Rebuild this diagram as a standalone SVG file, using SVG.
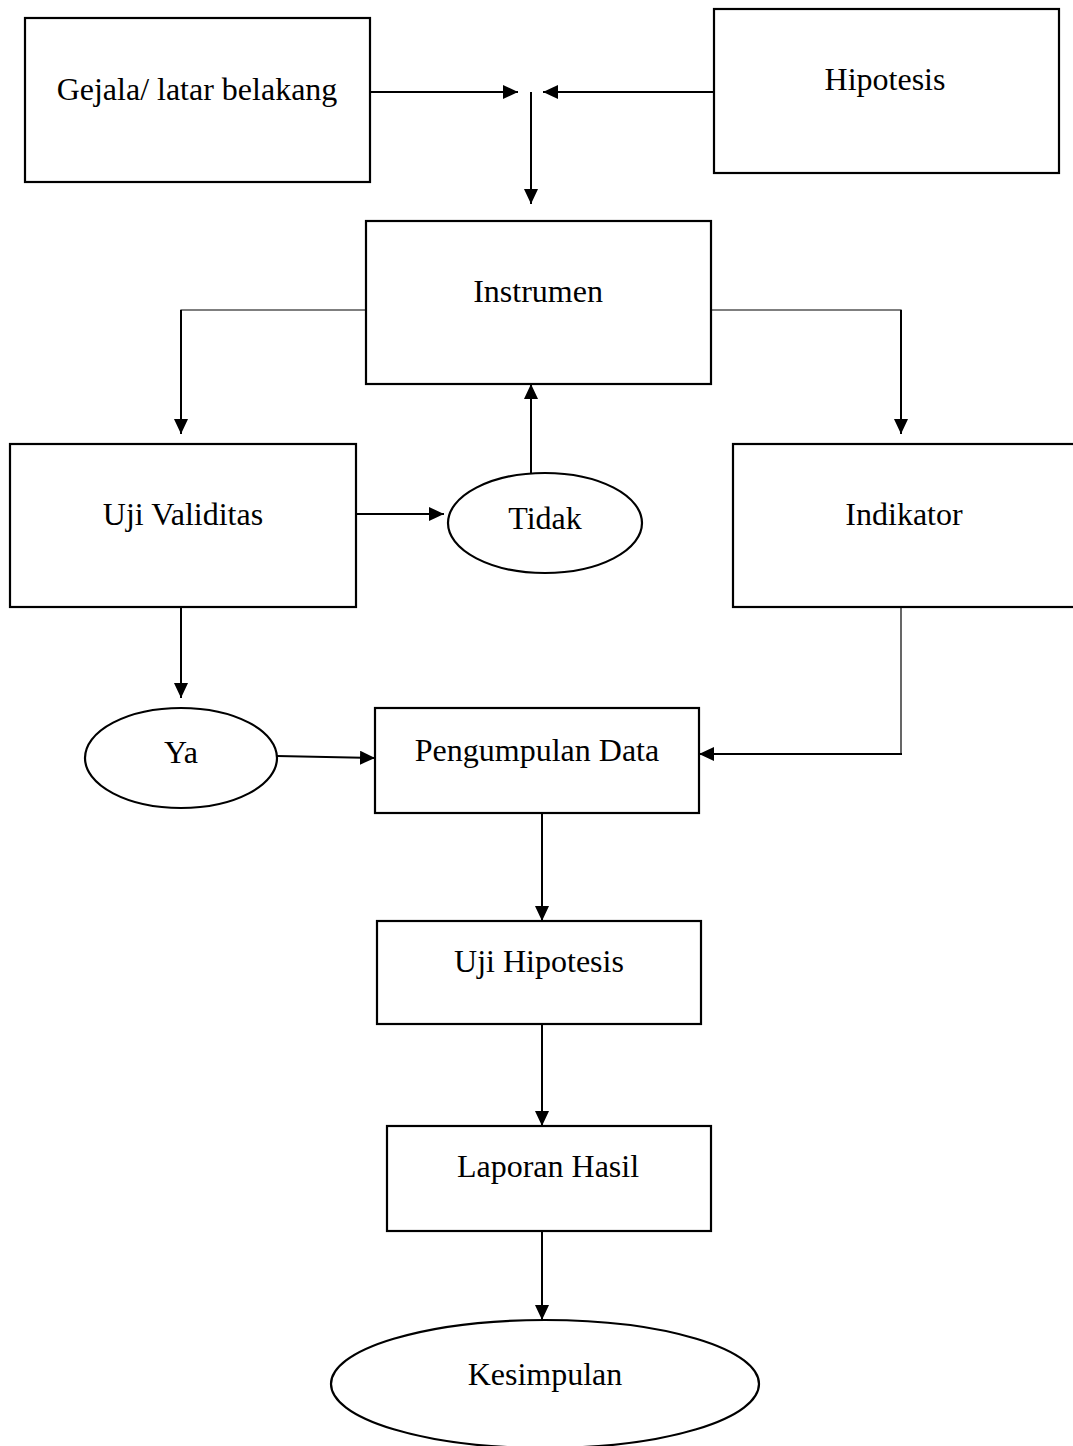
<svg xmlns="http://www.w3.org/2000/svg" width="1073" height="1446" viewBox="0 0 1073 1446">
<defs>
<marker id="ah" markerUnits="userSpaceOnUse" markerWidth="16" markerHeight="14" refX="15" refY="7" orient="auto">
<path d="M0,0 L15,7 L0,14 Z" fill="#000"/>
</marker>
<style>
.box{fill:#fff;stroke:#000;stroke-width:2.2}
.lbl{font-family:"Liberation Serif","Times New Roman",serif;font-size:32px;fill:#000;text-anchor:middle}
.c{fill:none;stroke:#000;stroke-width:2}
.t{fill:none;stroke:#000;stroke-width:1.2}
</style>
</defs>
<rect width="1073" height="1446" fill="#fff"/>
<g id="connectors">
<line class="c" x1="370" y1="92" x2="518" y2="92" marker-end="url(#ah)"/>
<line class="c" x1="714" y1="92" x2="543" y2="92" marker-end="url(#ah)"/>
<line class="c" x1="531" y1="92" x2="531" y2="204" marker-end="url(#ah)"/>
<polyline class="t" points="370,310 181,310 181,312"/>
<line class="c" x1="181" y1="310" x2="181" y2="434" marker-end="url(#ah)"/>
<polyline class="t" points="711,310 901,310 901,312"/>
<line class="c" x1="901" y1="310" x2="901" y2="434" marker-end="url(#ah)"/>
<line class="c" x1="531" y1="474" x2="531" y2="384" marker-end="url(#ah)"/>
<line class="c" x1="356" y1="514" x2="444" y2="514" marker-end="url(#ah)"/>
<line class="c" x1="181" y1="607" x2="181" y2="698" marker-end="url(#ah)"/>
<line class="c" x1="277" y1="756" x2="375" y2="758" marker-end="url(#ah)"/>
<polyline class="t" points="901,607 901,754"/>
<line class="c" x1="902" y1="754" x2="699" y2="754" marker-end="url(#ah)"/>
<line class="c" x1="542" y1="813" x2="542" y2="921" marker-end="url(#ah)"/>
<line class="c" x1="542" y1="1024" x2="542" y2="1126" marker-end="url(#ah)"/>
<line class="c" x1="542" y1="1231" x2="542" y2="1320" marker-end="url(#ah)"/>
</g>
<g id="gejala">
<rect class="box" x="25" y="18" width="345" height="164"/>
<text class="lbl" x="197" y="100">Gejala/ latar belakang</text>
</g>
<g id="hipotesis">
<rect class="box" x="714" y="9" width="345" height="164"/>
<text class="lbl" x="885" y="90">Hipotesis</text>
</g>
<g id="instrumen">
<rect class="box" x="366" y="221" width="345" height="163"/>
<text class="lbl" x="538" y="302">Instrumen</text>
</g>
<g id="uji-validitas">
<rect class="box" x="10" y="444" width="346" height="163"/>
<text class="lbl" x="183" y="525">Uji Validitas</text>
</g>
<g id="tidak">
<ellipse class="box" cx="545" cy="523" rx="97" ry="50"/>
<text class="lbl" x="545" y="529">Tidak</text>
</g>
<g id="indikator">
<rect class="box" x="733" y="444" width="350" height="163"/>
<text class="lbl" x="904" y="525">Indikator</text>
</g>
<g id="ya">
<ellipse class="box" cx="181" cy="758" rx="96" ry="50"/>
<text class="lbl" x="181" y="763">Ya</text>
</g>
<g id="pengumpulan-data">
<rect class="box" x="375" y="708" width="324" height="105"/>
<text class="lbl" x="537" y="761">Pengumpulan Data</text>
</g>
<g id="uji-hipotesis">
<rect class="box" x="377" y="921" width="324" height="103"/>
<text class="lbl" x="539" y="972">Uji Hipotesis</text>
</g>
<g id="laporan-hasil">
<rect class="box" x="387" y="1126" width="324" height="105"/>
<text class="lbl" x="548" y="1177">Laporan Hasil</text>
</g>
<g id="kesimpulan">
<ellipse class="box" cx="545" cy="1384" rx="214" ry="64"/>
<text class="lbl" x="545" y="1385">Kesimpulan</text>
</g>
</svg>
